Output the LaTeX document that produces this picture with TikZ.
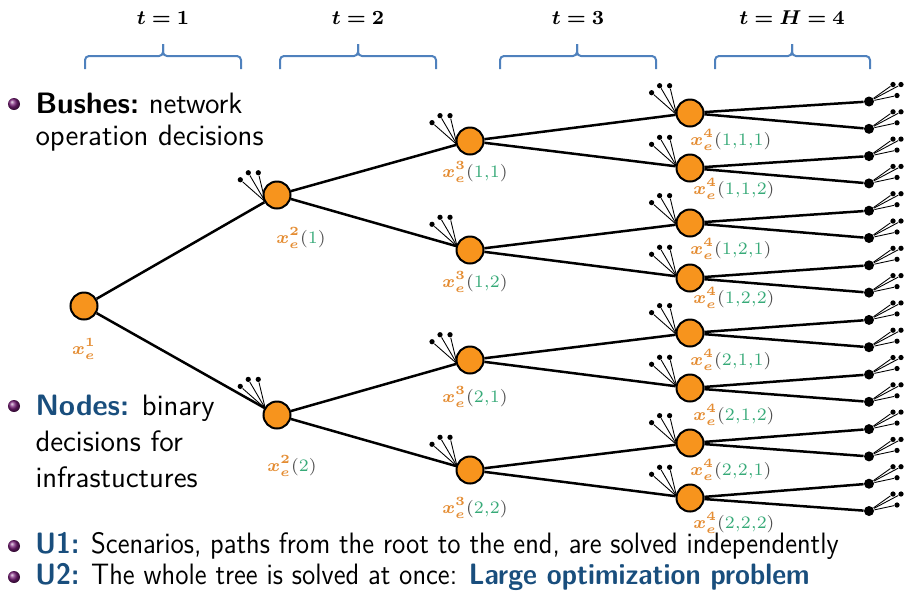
\documentclass[tikz,border=0pt]{standalone}
\usepackage{amsmath,bm}
\usetikzlibrary{calc}
\definecolor{norange}{RGB}{247,148,29}
\definecolor{lorange}{RGB}{228,140,50}
\definecolor{lgreen}{RGB}{55,170,120}
\definecolor{bracecol}{RGB}{79,129,189}
\definecolor{sblue}{RGB}{25,78,125}
\definecolor{bpurple}{RGB}{120,30,120}
\tikzset{
  treenode/.style={circle,draw=black,line width=0.8pt,fill=norange,minimum size=10.8pt,inner sep=0pt},
  leafnode/.style={circle,fill=black,minimum size=4pt,inner sep=0pt},
  bdot/.style={circle,fill=black,minimum size=2.1pt,inner sep=0pt},
  edge/.style={line width=1pt,black},
  bushline/.style={line width=0.35pt,black},
  bracepath/.style={draw=bracecol,line width=0.8pt,rounded corners=1.6pt},
  lab/.style={font=\fontsize{7.5}{9}\selectfont,inner sep=0pt},
  tlab/.style={font=\fontsize{8.5}{10}\selectfont,inner sep=0pt},
  body/.style={font=\fontsize{11.8}{14}\selectfont\sffamily,inner sep=0pt,anchor=base west},
}
\newcommand\xlab[2]{\textcolor{lorange}{$\bm{x_e^{#1}}$}$\textcolor{gray!60!black}{(}\textcolor{lgreen}{#2}\textcolor{gray!60!black}{)}$}
\newcommand\mybush[2]{%
  \coordinate (#1-c) at ($(#1)!5.4pt!(#2)$);
  \foreach \dx/\dy [count=\i] in {-25/-22,-17/-29,-7/-29}{
    \node[bdot] (#1-b\i) at ($(#1-c)+(\dx,\dy)$) {};
    \draw[bushline] (#1-c) -- (#1-b\i);
  }}
\newcommand\leafbush[1]{%
  \foreach \dx/\dy [count=\i] in {24/-17,32/-17,28/-6}{
    \node[bdot] (#1-b\i) at ($(#1)+(\dx,\dy)$) {};
    \draw[bushline] (#1) -- (#1-b\i);
  }}
\begin{document}
\begin{tikzpicture}[x=0.4pt,y=-0.4pt]
\useasboundingbox (0,0) rectangle (905,596);
% braces and stage labels
\foreach \xa/\xb/\xm in {85/241/163,280/436/358,500/656/577,715/870/792}{
  \draw[bracepath] (\xa,69) -- (\xa,56) -- (\xm,56) -- (\xm,44);
  \draw[bracepath] (\xb,69) -- (\xb,56) -- (\xm,56) -- (\xm,44);
}
\node[tlab] (t1) at (163,18) {$\bm{t=1}$};
\node[tlab] (t2) at (358,18) {$\bm{t=2}$};
\node[tlab] (t3) at (578,18) {$\bm{t=3}$};
\node[tlab] (t4) at (792,18) {$\bm{t=H=4}$};
% tree nodes
\node[treenode] (r) at (84,306) {};
\node[treenode] (b1) at (277,195) {};
\node[treenode] (b2) at (277,415) {};
\node[treenode] (c1) at (470,141) {};
\node[treenode] (c2) at (470,250) {};
\node[treenode] (c3) at (470,360) {};
\node[treenode] (c4) at (470,470) {};
\foreach \j in {1,...,8}{
  \node[treenode] (d\j) at (690,{113+55*(\j-1)}) {};
}
\foreach \k in {0,...,15}{
  \node[leafnode] (L\k) at (869,{101.5+27.3*\k}) {};
}
% edges
\draw[edge] (r) -- (b1); \draw[edge] (r) -- (b2);
\draw[edge] (b1) -- (c1); \draw[edge] (b1) -- (c2);
\draw[edge] (b2) -- (c3); \draw[edge] (b2) -- (c4);
\draw[edge] (c1) -- (d1); \draw[edge] (c1) -- (d2);
\draw[edge] (c2) -- (d3); \draw[edge] (c2) -- (d4);
\draw[edge] (c3) -- (d5); \draw[edge] (c3) -- (d6);
\draw[edge] (c4) -- (d7); \draw[edge] (c4) -- (d8);
\foreach \j [evaluate=\j as \la using {int(2*\j-2)}, evaluate=\j as \lb using {int(2*\j-1)}] in {1,...,8}{
  \draw[edge] (d\j) -- (L\la);
  \draw[edge] (d\j) -- (L\lb);
}
% bushes
\mybush{b1}{r} \mybush{b2}{r}
\mybush{c1}{b1} \mybush{c2}{b1} \mybush{c3}{b2} \mybush{c4}{b2}
\mybush{d1}{c1} \mybush{d2}{c1} \mybush{d3}{c2} \mybush{d4}{c2}
\mybush{d5}{c3} \mybush{d6}{c3} \mybush{d7}{c4} \mybush{d8}{c4}
\foreach \k in {0,...,15}{ \leafbush{L\k} }
% labels
\node[lab] (lr) at (84,349) {\textcolor{lorange}{$\bm{x_e^{1}}$}};
\node[lab] (lb1) at (301,238) {\xlab{2}{1}};
\node[lab] (lb2) at (292,466) {\xlab{2}{2}};
\node[lab] (lc1) at (475,172) {\xlab{3}{1{,}1}};
\node[lab] (lc2) at (475,282) {\xlab{3}{1{,}2}};
\node[lab] (lc3) at (475,397) {\xlab{3}{2{,}1}};
\node[lab] (lc4) at (475,508) {\xlab{3}{2{,}2}};
\node[lab] (ld1) at (731,140) {\xlab{4}{1{,}1{,}1}};
\node[lab] (ld2) at (734,189) {\xlab{4}{1{,}1{,}2}};
\node[lab] (ld3) at (731,249) {\xlab{4}{1{,}2{,}1}};
\node[lab] (ld4) at (734,298) {\xlab{4}{1{,}2{,}2}};
\node[lab] (ld5) at (731,360) {\xlab{4}{2{,}1{,}1}};
\node[lab] (ld6) at (734,415) {\xlab{4}{2{,}1{,}2}};
\node[lab] (ld7) at (731,470) {\xlab{4}{2{,}2{,}1}};
\node[lab] (ld8) at (734,523) {\xlab{4}{2{,}2{,}2}};
% text
\shade[ball color=bpurple] (14,104) circle (2.4pt);
\node[body] (tx1) at (35,113) {\bfseries Bushes:\mdseries\ network};
\node[body] (tx2) at (35,145) {operation decisions};
\shade[ball color=bpurple] (14,406) circle (2.4pt);
\node[body] (tx3) at (35,415) {\textcolor{sblue}{\bfseries Nodes:} binary};
\node[body] (tx4) at (35,451) {decisions for};
\node[body] (tx5) at (35,487) {infrastuctures};
\shade[ball color=bpurple] (14,546) circle (2.4pt);
\node[body,xscale=0.92] (tx6) at (35,553) {\textcolor{sblue}{\bfseries U1:} Scenarios, paths from the root to the end, are solved independently};
\shade[ball color=bpurple] (14,577) circle (2.4pt);
\node[body,xscale=0.92] (tx7) at (35,584) {\textcolor{sblue}{\bfseries U2:} The whole tree is solved at once: \textcolor{sblue}{\bfseries Large optimization problem}};
\end{tikzpicture}
\end{document}
